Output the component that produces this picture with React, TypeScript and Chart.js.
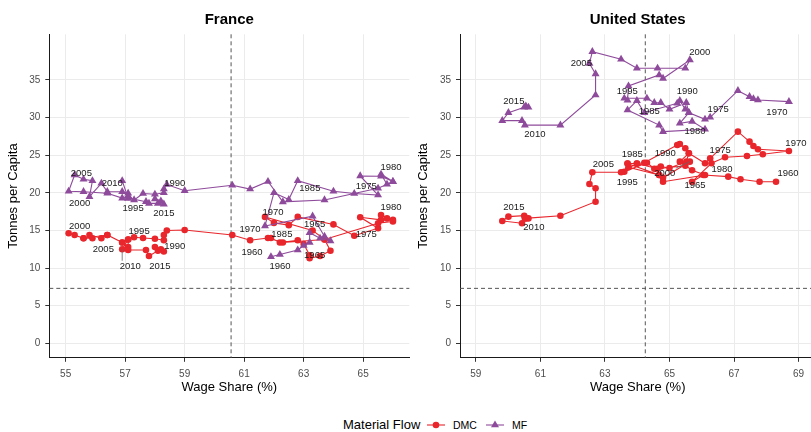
import React, { useEffect, useRef } from 'react';
import { Chart, registerables } from 'chart.js';

Chart.register(...registerables);

const FONT = "'Liberation Sans', Arial, Helvetica, sans-serif";
const DMC_COLOR = '#E8262C';
const MF_COLOR = '#8E4B9B';

// ---------- France ----------
const franceYears = [
  1960, 1961, 1962, 1963, 1964, 1965, 1966, 1967, 1968, 1969,
  1970, 1971, 1972, 1973, 1974, 1975, 1976, 1977, 1978, 1979,
  1980, 1981, 1982, 1983, 1984, 1985, 1986, 1987, 1988, 1989,
  1990, 1991, 1992, 1993, 1994, 1995, 1996, 1997, 1998, 1999,
  2000, 2001, 2002, 2003, 2004, 2005, 2006, 2007, 2008, 2009,
  2010, 2011, 2012, 2013, 2014, 2015, 2016, 2017,
];
const franceWage = [
  61.9, 62.2, 62.8, 63.0, 63.2, 63.2, 63.55, 63.9, 63.7, 63.3,
  61.7, 62.0, 62.5, 62.8, 64.0, 64.7, 65.5, 64.9, 65.6, 66.0,
  65.6, 65.8, 66.0, 65.5, 63.7, 62.3, 61.8, 61.2, 60.6, 59.0,
  58.4, 58.3, 58.3, 58.0, 57.6, 57.3, 57.1, 56.9, 56.4, 55.6,
  55.1, 55.3, 55.6, 55.9, 55.8, 56.2, 56.4, 56.9, 57.1, 57.1,
  56.9, 57.1, 57.7, 57.8, 58.1, 58.3, 58.2, 58.0,
];
const franceDMC = [
  14.0, 13.4, 13.7, 13.2, 11.7, 11.3, 11.6, 12.3, 13.8, 15.0,
  16.8, 16.0, 15.7, 16.8, 15.8, 14.3, 15.3, 16.75, 16.4, 16.4,
  17.05, 16.6, 16.2, 15.95, 13.8, 13.4, 14.0, 13.7, 14.4, 15.06,
  15.0, 14.4, 13.7, 13.9, 14.0, 14.1, 13.8, 13.4, 14.4, 13.96,
  14.62, 14.4, 13.96, 13.96, 14.4, 13.96, 14.4, 13.4, 12.8, 13.8,
  12.5, 12.4, 12.4, 11.6, 12.3, 12.2, 12.5, 12.8,
];
const franceMF = [
  11.5, 11.8, 12.4, 13.0, 13.4, 14.7, 13.96, 13.6, 14.2, 16.9,
  15.6, 20.0, 19.1, 21.6, 20.2, 19.9, 19.7, 22.24, 22.2, 21.5,
  22.47, 21.14, 21.48, 20.6, 19.05, 18.8, 21.5, 20.5, 21.0, 20.28,
  21.1, 20.5, 20.0, 19.8, 19.9, 19.05, 19.6, 19.3, 19.94, 20.15,
  20.2, 22.37, 21.8, 21.6, 19.49, 21.27, 20.15, 20.15, 19.94, 19.3,
  21.6, 19.3, 18.82, 18.6, 18.6, 18.5, 18.9, 19.2,
];

// ---------- United States ----------
const usYears = [
  1960, 1961, 1962, 1963, 1964, 1965, 1966, 1967, 1968, 1969,
  1970, 1971, 1972, 1973, 1974, 1975, 1976, 1977, 1978, 1979,
  1980, 1981, 1982, 1983, 1984, 1985, 1986, 1987, 1988, 1989,
  1990, 1991, 1992, 1993, 1994, 1995, 1996, 1997, 1998, 1999,
  2000, 2001, 2002, 2003, 2004, 2005, 2006, 2007, 2008, 2009,
  2010, 2011, 2012, 2013, 2014, 2015, 2016,
];
const usWage = [
  68.3, 67.79, 67.2, 66.82, 66.05, 65.7, 66.3, 66.72, 67.4, 67.89,
  68.7, 67.74, 67.6, 67.48, 67.12, 66.26, 66.1, 65.6, 65.32, 65.7,
  66.1, 64.8, 64.68, 63.7, 63.99, 64.22, 65.24, 65.32, 65.49, 65.6,
  65.52, 65.0, 64.73, 64.53, 64.3, 63.6, 63.7, 63.73, 64.68, 64.8,
  65.63, 65.49, 64.63, 63.99, 63.5, 62.61, 62.52, 62.71, 62.71, 61.62,
  60.52, 60.43, 59.82, 60.01, 60.5, 60.55, 60.63,
];
const usDMC = [
  21.48, 21.48, 21.8, 22.15, 22.37, 21.48, 23.93, 24.72, 24.9, 25.12,
  25.56, 25.79, 26.23, 26.8, 28.13, 24.59, 23.93, 25.26, 24.14, 23.0,
  22.37, 21.48, 22.37, 23.9, 23.9, 24.0, 26.36, 26.49, 25.92, 25.26,
  24.14, 23.3, 23.5, 23.2, 24.0, 22.8, 23.9, 23.4, 22.37, 22.0,
  24.14, 23.6, 23.2, 23.9, 22.73, 22.73, 21.17, 20.6, 18.82, 16.96,
  16.6, 15.95, 16.26, 16.83, 16.96, 16.6, 16.6,
];
const usMF = [
  null, null, null, null, null, null, null, null, null, null,
  32.12, 32.34, 32.5, 32.78, 33.58, 30.04, 29.77, 30.65, 29.24, 29.5,
  28.45, 28.13, 29.0, 31.0, 32.25, 30.65, 31.9, 32.25, 31.1, 30.65,
  31.98, 31.1, 31.98, 31.98, 32.56, 32.56, 32.3, 34.2, 35.66, 35.2,
  37.66, 36.55, 36.55, 36.55, 37.75, 38.76, 37.2, 35.8, 33.0, 29.0,
  29.0, 29.6, 29.6, 30.65, 31.37, 31.54, 31.37,
];

// ---------- axes ----------
const franceXTicks = [55, 57, 59, 61, 63, 65];
const usXTicks = [59, 61, 63, 65, 67, 69];
const yTicks = [0, 5, 10, 15, 20, 25, 30, 35];
const franceRefWage = 60.56;
const usRefWage = 64.25;
const refTonnes = 7.3;

// label offsets (pixels from point), third entry = draw connector
type Off = Record<number, number[]>;
const franceDmcLabelOffsets: Off = {
  1960: [-19, 14], 1965: [5, -3], 1970: [8, -5], 1975: [12, -1], 1980: [10, -8], 1985: [-1, -8],
  1990: [8, 16], 1995: [5, -6], 2000: [11, -7], 2005: [2, 11], 2010: [8, 17, 1], 2015: [-4, 15],
};
const franceMfLabelOffsets: Off = {
  1960: [9, 10], 1965: [5, -8], 1970: [-15, 3], 1975: [12, -7], 1980: [10, -7], 1985: [27, -13],
  1990: [8, -1], 1995: [-1, 8], 2000: [11, 12], 2005: [-20, -10], 2010: [-10, 3], 2015: [0, 9],
};
const usDmcLabelOffsets: Off = {
  1960: [12, -8], 1965: [3, 4], 1970: [7, -8], 1975: [10, -8], 1980: [17, -6], 1985: [-12, -8],
  1990: [-21, -8], 1995: [3, 11], 2000: [-25, 12, 1], 2005: [11, -8], 2010: [9, 9], 2015: [-12, -11],
};
const usMfLabelOffsets: Off = {
  1970: [-12, 11], 1975: [8, -8], 1980: [-10, 2], 1985: [5, -1], 1990: [1, -11], 1995: [3, -7],
  2000: [10, -8], 2005: [-11, 12], 2010: [10, 9], 2015: [-12, -5],
};

type Panel = {
  title: string;
  years: number[];
  wage: number[];
  dmc: (number | null)[];
  mf: (number | null)[];
  xMin: number;
  xMax: number;
  xTicks: number[];
  refX: number;
  dmcOffsets: Off;
  mfOffsets: Off;
  yAxisWidth: number;
  padRight: number;
};

const panels: Panel[] = [
  {
    title: 'France', years: franceYears, wage: franceWage, dmc: franceDMC, mf: franceMF,
    xMin: 54.45, xMax: 66.55, xTicks: franceXTicks, refX: franceRefWage,
    dmcOffsets: franceDmcLabelOffsets, mfOffsets: franceMfLabelOffsets, yAxisWidth: 49.3, padRight: 10.7,
  },
  {
    title: 'United States', years: usYears, wage: usWage, dmc: usDMC, mf: usMF,
    xMin: 58.51, xMax: 69.52, xTicks: usXTicks, refX: usRefWage,
    dmcOffsets: usDmcLabelOffsets, mfOffsets: usMfLabelOffsets, yAxisWidth: 50, padRight: 0,
  },
];

function toPoints(wage: number[], vals: (number | null)[]) {
  const out: { x: number; y: number }[] = [];
  vals.forEach((v, i) => {
    if (v !== null && v !== undefined) out.push({ x: wage[i], y: v });
  });
  return out;
}

function makeChart(canvas: HTMLCanvasElement, p: Panel) {
  const refPlugin = {
    id: 'refLines',
    beforeDatasetsDraw(chart: any) {
      const { ctx, chartArea, scales } = chart;
      const { left, right, top, bottom } = chartArea;
      ctx.save();
      ctx.strokeStyle = '#555555';
      ctx.lineWidth = 1;
      ctx.setLineDash([4, 3]);
      const xv = scales.x.getPixelForValue(p.refX);
      ctx.beginPath();
      ctx.moveTo(xv, top);
      ctx.lineTo(xv, bottom);
      ctx.stroke();
      const yv = scales.y.getPixelForValue(refTonnes);
      ctx.beginPath();
      ctx.moveTo(left, yv);
      ctx.lineTo(right, yv);
      ctx.stroke();
      ctx.restore();
    },
  };
  const labelPlugin = {
    id: 'yearLabels',
    afterDatasetsDraw(chart: any) {
      const { ctx, scales } = chart;
      ctx.save();
      ctx.font = `9.5px ${FONT}`;
      ctx.textAlign = 'center';
      ctx.textBaseline = 'middle';
      const series = [
        { vals: p.dmc, offs: p.dmcOffsets },
        { vals: p.mf, offs: p.mfOffsets },
      ];
      series.forEach((s) => {
        Object.keys(s.offs).forEach((k) => {
          const yr = Number(k);
          const i = p.years.indexOf(yr);
          const v = s.vals[i];
          if (i < 0 || v === null || v === undefined) return;
          const off = s.offs[yr];
          const px = scales.x.getPixelForValue(p.wage[i]);
          const py = scales.y.getPixelForValue(v);
          const lx = px + off[0];
          const ly = py + off[1];
          if (off[2]) {
            const hw = 11, hh = 5.5;
            const ex = Math.max(lx - hw, Math.min(px, lx + hw));
            const ey = Math.max(ly - hh, Math.min(py, ly + hh));
            ctx.strokeStyle = '#666666';
            ctx.lineWidth = 0.8;
            ctx.beginPath();
            ctx.moveTo(px, py);
            ctx.lineTo(ex, ey);
            ctx.stroke();
          }
          ctx.fillStyle = '#1a1a1a';
          ctx.fillText(String(yr), lx, ly);
        });
      });
      ctx.restore();
    },
  };

  return new Chart(canvas, {
    type: 'scatter',
    data: {
      datasets: [
        {
          label: 'MF',
          data: toPoints(p.wage, p.mf),
          showLine: true,
          borderColor: MF_COLOR,
          backgroundColor: MF_COLOR,
          borderWidth: 1.1,
          pointStyle: 'triangle',
          pointRadius: 4.6,
          pointHoverRadius: 4.6,
          pointBorderWidth: 0,
          tension: 0,
        },
        {
          label: 'DMC',
          data: toPoints(p.wage, p.dmc),
          showLine: true,
          borderColor: DMC_COLOR,
          backgroundColor: DMC_COLOR,
          borderWidth: 1.1,
          pointStyle: 'circle',
          pointRadius: 3.3,
          pointHoverRadius: 3.3,
          pointBorderWidth: 0,
          tension: 0,
        },
      ],
    },
    options: {
      animation: false,
      responsive: false,
      events: [],
      layout: { padding: { left: 0, right: p.padRight, top: 0, bottom: 2.2 } },
      plugins: {
        legend: { display: false },
        tooltip: { enabled: false },
        title: {
          display: true,
          text: p.title,
          fullSize: false,
          color: '#000000',
          font: { family: FONT, size: 15, weight: 'bold', lineHeight: 1.2 },
          padding: { top: 11, bottom: 5.3 },
        },
      },
      scales: {
        x: {
          type: 'linear',
          min: p.xMin,
          max: p.xMax,
          afterBuildTicks: (s: any) => {
            s.ticks = p.xTicks.map((v) => ({ value: v }));
          },
          afterFit: (s: any) => {
            s.height = 40;
          },
          grid: { color: '#EBEBEB', lineWidth: 1, drawTicks: true, tickLength: 4, tickColor: '#333333', tickWidth: 1 },
          border: { display: true, color: '#1a1a1a', width: 1 },
          ticks: {
            font: { family: FONT, size: 10 },
            color: '#4D4D4D',
            padding: 6,
            maxRotation: 0,
            autoSkip: false,
          },
          title: {
            display: true,
            text: 'Wage Share (%)',
            color: '#000000',
            font: { family: FONT, size: 13 },
            padding: { top: 0, bottom: 3 },
          },
        },
        y: {
          type: 'linear',
          min: -1.93,
          max: 41.07,
          afterBuildTicks: (s: any) => {
            s.ticks = yTicks.map((v) => ({ value: v }));
          },
          afterFit: (s: any) => {
            s.width = p.yAxisWidth;
          },
          grid: { color: '#EBEBEB', lineWidth: 1, drawTicks: true, tickLength: 4, tickColor: '#333333', tickWidth: 1 },
          border: { display: true, color: '#1a1a1a', width: 1 },
          ticks: {
            font: { family: FONT, size: 10 },
            color: '#4D4D4D',
            padding: 5,
          },
          title: {
            display: true,
            text: 'Tonnes per Capita',
            color: '#000000',
            font: { family: FONT, size: 13 },
            padding: { top: 6, bottom: 0 },
          },
        },
      },
    },
    plugins: [refPlugin, labelPlugin],
  } as any);
}

export default function App() {
  const leftRef = useRef<HTMLCanvasElement>(null);
  const rightRef = useRef<HTMLCanvasElement>(null);

  useEffect(() => {
    document.body.style.margin = '0';
    const charts: Chart[] = [];
    if (leftRef.current) charts.push(makeChart(leftRef.current, panels[0]));
    if (rightRef.current) charts.push(makeChart(rightRef.current, panels[1]));
    return () => charts.forEach((c) => c.destroy());
  }, []);

  return (
    <div
      style={{
        position: 'relative',
        width: 811,
        height: 432,
        overflow: 'hidden',
        background: '#ffffff',
        fontFamily: FONT,
      }}
    >
      <canvas
        ref={leftRef}
        width={420}
        height={400}
        style={{ position: 'absolute', left: 0, top: 0, width: 420, height: 400 }}
      />
      <canvas
        ref={rightRef}
        width={410}
        height={400}
        style={{ position: 'absolute', left: 410, top: 0, width: 410, height: 400 }}
      />
      <div style={{ position: 'absolute', left: 343, top: 417, fontSize: 13, lineHeight: '16px', color: '#000' }}>
        Material Flow
      </div>
      <svg style={{ position: 'absolute', left: 427, top: 420 }} width={18} height={10}>
        <line x1={0} y1={5} x2={18} y2={5} stroke={DMC_COLOR} strokeWidth={1.1} />
        <circle cx={9} cy={5} r={3.3} fill={DMC_COLOR} />
      </svg>
      <div style={{ position: 'absolute', left: 453, top: 418, fontSize: 10.5, lineHeight: '14px', color: '#000' }}>
        DMC
      </div>
      <svg style={{ position: 'absolute', left: 486, top: 419 }} width={18} height={12}>
        <line x1={0} y1={6} x2={18} y2={6} stroke={MF_COLOR} strokeWidth={1.1} />
        <polygon points="9,1.4 13,8.3 5,8.3" fill={MF_COLOR} />
      </svg>
      <div style={{ position: 'absolute', left: 512, top: 418, fontSize: 10.5, lineHeight: '14px', color: '#000' }}>
        MF
      </div>
    </div>
  );
}
